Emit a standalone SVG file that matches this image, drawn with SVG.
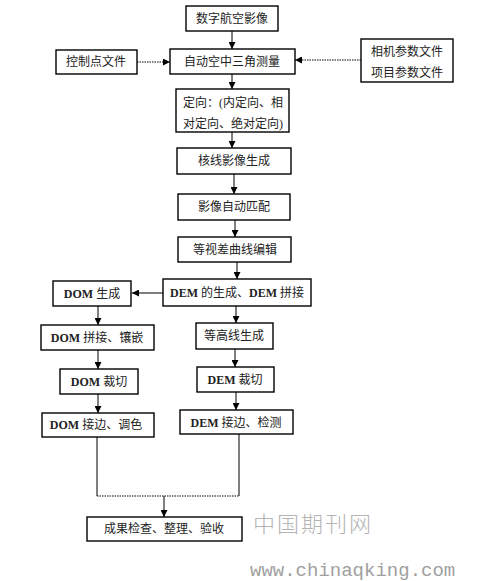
<svg xmlns="http://www.w3.org/2000/svg" width="480" height="581" viewBox="0 0 480 581">
<defs>
<style>
.b{fill:#fff;stroke:#000;stroke-width:1.4}
.t{font-family:"Liberation Serif","Noto Sans CJK SC",serif;font-size:12px;fill:#222;text-anchor:middle}
.l{font-weight:bold}
.c{fill:none;stroke:#000;stroke-width:1}
.d{fill:none;stroke:#000;stroke-width:1.2;stroke-dasharray:1.5 1}
.w{font-family:"Noto Sans CJK SC",sans-serif;fill:#b4b4b4;font-weight:300}
</style>
<marker id="a" viewBox="0 0 10 10" refX="10" refY="5" markerWidth="7" markerHeight="7" orient="auto" markerUnits="userSpaceOnUse">
<path d="M0,0L10,5L0,10z" fill="#000"/>
</marker>
</defs>
<rect width="480" height="581" fill="#fff"/>
<g id="connectors">
<line class="c" x1="232" y1="31" x2="232" y2="49" marker-end="url(#a)"/>
<line class="d" x1="137" y1="62" x2="170" y2="62" marker-end="url(#a)"/>
<line class="d" x1="361" y1="60" x2="295" y2="60" marker-end="url(#a)"/>
<line class="c" x1="232" y1="74" x2="232" y2="89" marker-end="url(#a)"/>
<line class="c" x1="232" y1="132" x2="232" y2="148" marker-end="url(#a)"/>
<line class="c" x1="234" y1="174" x2="234" y2="194" marker-end="url(#a)"/>
<line class="c" x1="235" y1="220" x2="235" y2="237" marker-end="url(#a)"/>
<line class="c" x1="237" y1="262" x2="237" y2="279" marker-end="url(#a)"/>
<line class="c" x1="163" y1="293" x2="132" y2="293" marker-end="url(#a)"/>
<line class="c" x1="236" y1="306" x2="236" y2="323" marker-end="url(#a)"/>
<line class="c" x1="235" y1="349" x2="235" y2="367" marker-end="url(#a)"/>
<line class="c" x1="236" y1="392" x2="236" y2="410" marker-end="url(#a)"/>
<line class="c" x1="98" y1="306" x2="98" y2="325" marker-end="url(#a)"/>
<line class="c" x1="98" y1="350" x2="98" y2="369" marker-end="url(#a)"/>
<line class="c" x1="98" y1="394" x2="98" y2="413" marker-end="url(#a)"/>
<polyline class="c" points="97,437 97,496"/>
<polyline class="c" points="239,434 239,496"/>
<line class="d" x1="97" y1="496" x2="239" y2="496"/>
<line class="c" x1="164" y1="496" x2="164" y2="517" marker-end="url(#a)"/>
</g>
<g id="n1"><rect class="b" x="186" y="6" width="92" height="25"/><text class="t" x="232" y="23">数字航空影像</text></g>
<g id="n2"><rect class="b" x="170" y="49" width="125" height="25"/><text class="t" x="232" y="66">自动空中三角测量</text></g>
<g id="n3"><rect class="b" x="56" y="50" width="81" height="24"/><text class="t" x="96" y="66">控制点文件</text></g>
<g id="n4"><rect class="b" x="361" y="39" width="92" height="43"/><text class="t" x="407" y="56">相机参数文件</text><text class="t" x="407" y="77">项目参数文件</text></g>
<g id="n5"><rect class="b" x="176" y="89" width="113" height="43"/><text class="t" x="233" y="107">定向：(内定向、相</text><text class="t" x="233" y="128">对定向、绝对定向)</text></g>
<g id="n6"><rect class="b" x="177" y="148" width="114" height="26"/><text class="t" x="234" y="165">核线影像生成</text></g>
<g id="n7"><rect class="b" x="178" y="194" width="112" height="26"/><text class="t" x="234" y="211">影像自动匹配</text></g>
<g id="n8"><rect class="b" x="178" y="237" width="113" height="25"/><text class="t" x="235" y="254">等视差曲线编辑</text></g>
<g id="n9"><rect class="b" x="163" y="279" width="148" height="27"/><text class="t" x="237" y="297"><tspan class="l">DEM</tspan> 的生成、<tspan class="l">DEM</tspan> 拼接</text></g>
<g id="n10"><rect class="b" x="53" y="281" width="78" height="25"/><text class="t" x="92" y="298"><tspan class="l">DOM</tspan> 生成</text></g>
<g id="n11"><rect class="b" x="41" y="325" width="113" height="25"/><text class="t" x="97" y="342"><tspan class="l">DOM</tspan> 拼接、镶嵌</text></g>
<g id="n12"><rect class="b" x="196" y="323" width="77" height="26"/><text class="t" x="234" y="340">等高线生成</text></g>
<g id="n13"><rect class="b" x="60" y="369" width="78" height="25"/><text class="t" x="99" y="386"><tspan class="l">DOM</tspan> 裁切</text></g>
<g id="n14"><rect class="b" x="197" y="367" width="77" height="25"/><text class="t" x="235" y="384"><tspan class="l">DEM</tspan> 裁切</text></g>
<g id="n15"><rect class="b" x="42" y="413" width="112" height="24"/><text class="t" x="96" y="429"><tspan class="l">DOM</tspan> 接边、调色</text></g>
<g id="n16"><rect class="b" x="180" y="410" width="113" height="24"/><text class="t" x="236" y="427"><tspan class="l">DEM</tspan> 接边、检测</text></g>
<g id="n17"><rect class="b" x="87" y="517" width="155" height="24"/><text class="t" x="164" y="533">成果检查、整理、验收</text></g>
<text class="w" x="253" y="532" font-size="22" letter-spacing="2">中国期刊网</text>
<text x="250" y="576" font-family="Liberation Mono, monospace" font-size="19" fill="#a0a0a0">www.chinaqking.com</text>
</svg>
